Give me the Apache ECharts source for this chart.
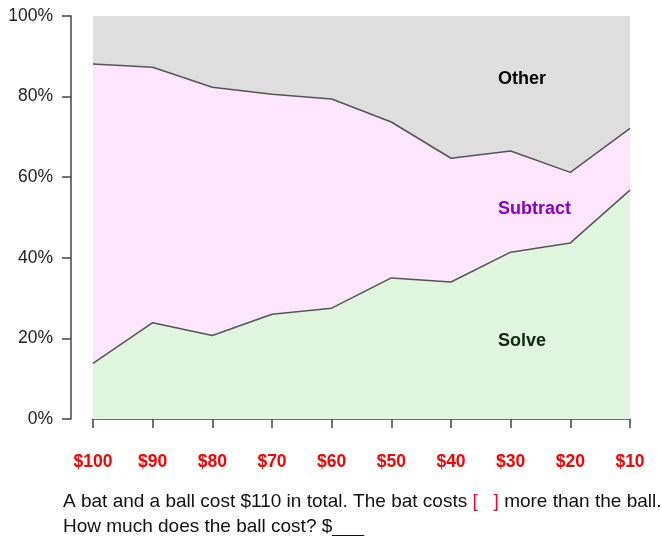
<!DOCTYPE html>
<html>
<head>
<meta charset="utf-8">
<script src="https://cdn.jsdelivr.net/npm/echarts@6/dist/echarts.min.js"></script>
<style>
  html, body { margin: 0; padding: 0; background: #fff; }
  #chart { width: 662px; height: 536px; }
</style>
</head>
<body>
<div id="chart"></div>
<script>
const categories = ['$100', '$90', '$80', '$70', '$60', '$50', '$40', '$30', '$20', '$10']
const solve = [13.8, 23.9, 20.7, 26.0, 27.5, 35.0, 34.0, 41.4, 43.7, 56.8]
const subtract = [74.3, 63.4, 61.6, 54.6, 51.9, 38.7, 30.7, 25.1, 17.5, 15.3]
const other = [11.9, 12.7, 17.7, 19.4, 20.6, 26.3, 35.3, 33.5, 38.8, 27.9]
const yTicks = [0, 20, 40, 60, 80, 100]

const chart = echarts.init(document.getElementById('chart'))

const font = 'Arial, "Liberation Sans", sans-serif'

const areaSeries = (name, data, fill, lineWidth) => ({
  name,
  type: 'line',
  stack: 'share',
  data,
  symbol: 'none',
  smooth: false,
  lineStyle: { color: '#555', width: lineWidth },
  areaStyle: { color: fill, opacity: 1 },
  emphasis: { disabled: true }
})

chart.setOption({
  animation: false,
  grid: { left: 93, right: 32, top: 16, bottom: 117 },
  xAxis: {
    type: 'category',
    data: categories,
    boundaryGap: false,
    offset: 18,
    axisLine: { lineStyle: { color: '#444', width: 1.5 } },
    axisTick: { alignWithLabel: true, length: 9, lineStyle: { color: '#444', width: 1.5 } },
    axisLabel: { color: '#ff0000', fontWeight: 'bold', fontSize: 17.5, fontFamily: font, margin: 16 },
    splitLine: { show: false }
  },
  yAxis: {
    type: 'value',
    min: yTicks[0],
    max: yTicks[yTicks.length - 1],
    interval: 20,
    offset: 22,
    axisLine: { show: true, lineStyle: { color: '#444', width: 1.5 } },
    axisTick: { show: true, length: 9, lineStyle: { color: '#444', width: 1.5 } },
    axisLabel: { color: '#222', fontSize: 17.5, fontFamily: font, margin: 18, formatter: '{value}%' },
    splitLine: { show: false }
  },
  series: [
    areaSeries('Solve', solve, '#dff5dd', 1.5),
    areaSeries('Subtract', subtract, '#fde6fd', 1.5),
    areaSeries('Other', other, '#dedede', 0)
  ],
  graphic: [
    { type: 'text', z: 100, left: 498, top: 70, style: { text: 'Other', font: 'bold 18px ' + font, fill: '#000' } },
    { type: 'text', z: 100, left: 498, top: 200, style: { text: 'Subtract', font: 'bold 18px ' + font, fill: '#8a00c8' } },
    { type: 'text', z: 100, left: 498, top: 332, style: { text: 'Solve', font: 'bold 18px ' + font, fill: '#0a2a0a' } },
    {
      type: 'text', z: 100, left: 63, top: 489,
      style: {
        text: 'A bat and a ball cost $110 in total. The bat costs {r|[   ]} more than the ball.\nHow much does the ball cost? $___',
        font: '19px ' + font,
        fill: '#111',
        lineHeight: 25,
        rich: { r: { fill: '#ff0033', font: '19px ' + font } }
      }
    }
  ]
})

window.addEventListener('resize', () => chart.resize())
</script>
</body>
</html>
